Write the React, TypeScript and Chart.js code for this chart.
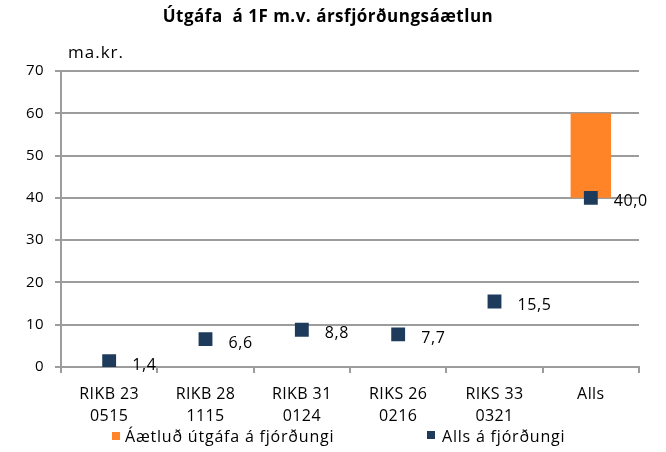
import React, { useEffect, useRef } from "react";
import { Chart, registerables } from "chart.js";

Chart.register(...registerables);

const titleText = "Útgáfa  á 1F m.v. ársfjórðungsáætlun";
const unitLabel = "ma.kr.";
const categories: (string | string[])[] = [
  ["RIKB 23", "0515"],
  ["RIKB 28", "1115"],
  ["RIKB 31", "0124"],
  ["RIKS 26", "0216"],
  ["RIKS 33", "0321"],
  "Alls",
];
const plannedRange: ([number, number] | null)[] = [null, null, null, null, null, [40, 60]];
const totalValues: number[] = [1.4, 6.6, 8.8, 7.7, 15.5, 40.0];
const plannedLabel = "Áætluð útgáfa á fjórðungi";
const totalLabel = "Alls á fjórðungi";
const yMin = 0;
const yMax = 70;
const yStep = 10;

const ORANGE = "#FF8427";
const NAVY = "#1F3B5C";
const GRID = "#9C9C9C";
const FONT = "'Open Sans', 'DejaVu Sans', sans-serif";

const spacingPlugin = {
  id: "spacing",
  beforeDraw(chart: any) {
    (chart.ctx as any).letterSpacing = "0.4px";
  },
};

const overlayPlugin = {
  id: "overlay",
  afterDraw(chart: any) {
    const ctx = chart.ctx as any;
    ctx.save();
    ctx.fillStyle = "#000";
    // title
    ctx.letterSpacing = "0.5px";
    ctx.font = `bold 17px ${FONT}`;
    ctx.textAlign = "center";
    ctx.textBaseline = "middle";
    ctx.fillText(titleText, 328, 17);
    // unit
    ctx.letterSpacing = "1px";
    ctx.font = `17px ${FONT}`;
    ctx.textAlign = "left";
    ctx.fillText(unitLabel, 68, 53);
    // data labels
    ctx.letterSpacing = "0.6px";
    const meta = chart.getDatasetMeta(1);
    ctx.font = `16px ${FONT}`;
    meta.data.forEach((pt: any, i: number) => {
      const v = totalValues[i];
      if (v == null) return;
      ctx.fillText(v.toFixed(1).replace(".", ","), pt.x + 23, pt.y + 4);
    });
    // legend
    ctx.fillStyle = ORANGE;
    ctx.fillRect(112, 432, 8, 8);
    ctx.fillStyle = NAVY;
    ctx.fillRect(427, 431, 8, 8);
    ctx.fillStyle = "#000";
    ctx.letterSpacing = "0.8px";
    ctx.fillText(plannedLabel, 125, 437);
    ctx.fillText(totalLabel, 442, 437);
    ctx.restore();
  },
};

export default function App() {
  const ref = useRef<HTMLCanvasElement>(null);
  useEffect(() => {
    if (!ref.current) return;
    const chart = new Chart(ref.current, {
      type: "bar",
      data: {
        labels: categories as any,
        datasets: [
          {
            type: "bar",
            label: plannedLabel,
            data: plannedRange as any,
            backgroundColor: ORANGE,
            borderWidth: 0,
            barPercentage: 0.42,
            categoryPercentage: 1,
            order: 2,
          },
          {
            type: "line",
            label: totalLabel,
            data: totalValues,
            showLine: false,
            pointStyle: "rect",
            pointRadius: 9.8,
            pointBackgroundColor: NAVY,
            pointBorderColor: NAVY,
            pointBorderWidth: 0,
            order: 1,
          } as any,
        ],
      },
      options: {
        responsive: false,
        animation: false,
        layout: { padding: { top: 71, right: 27, bottom: 0, left: 0 } },
        plugins: {
          legend: { display: false },
          title: { display: false },
          tooltip: { enabled: false },
        },
        scales: {
          x: {
            type: "category",
            offset: true,
            grid: {
              offset: true,
              drawOnChartArea: false,
              drawTicks: true,
              tickLength: 6,
              color: GRID,
              lineWidth: 2,
            },
            border: { color: GRID, width: 2 },
            ticks: {
              color: "#000",
              padding: 10,
              maxRotation: 0,
              autoSkip: false,
              font: { family: FONT, size: 16, lineHeight: 22 / 16 },
            },
            afterFit: (s: any) => {
              s.height = 85;
            },
          },
          y: {
            min: yMin,
            max: yMax,
            ticks: {
              stepSize: yStep,
              color: "#000",
              padding: 11,
              font: { family: FONT, size: 15 },
            },
            grid: {
              color: GRID,
              lineWidth: 2,
              tickLength: 6,
              drawTicks: true,
            },
            border: { color: GRID, width: 2 },
            afterFit: (s: any) => {
              s.width = 61;
            },
          },
        },
      },
      plugins: [spacingPlugin, overlayPlugin],
    });
    return () => chart.destroy();
  }, []);
  return (
    <div style={{ position: "fixed", left: 0, top: 0, width: 666, height: 452, background: "#fff" }}>
      <canvas ref={ref} width={666} height={452} />
    </div>
  );
}
